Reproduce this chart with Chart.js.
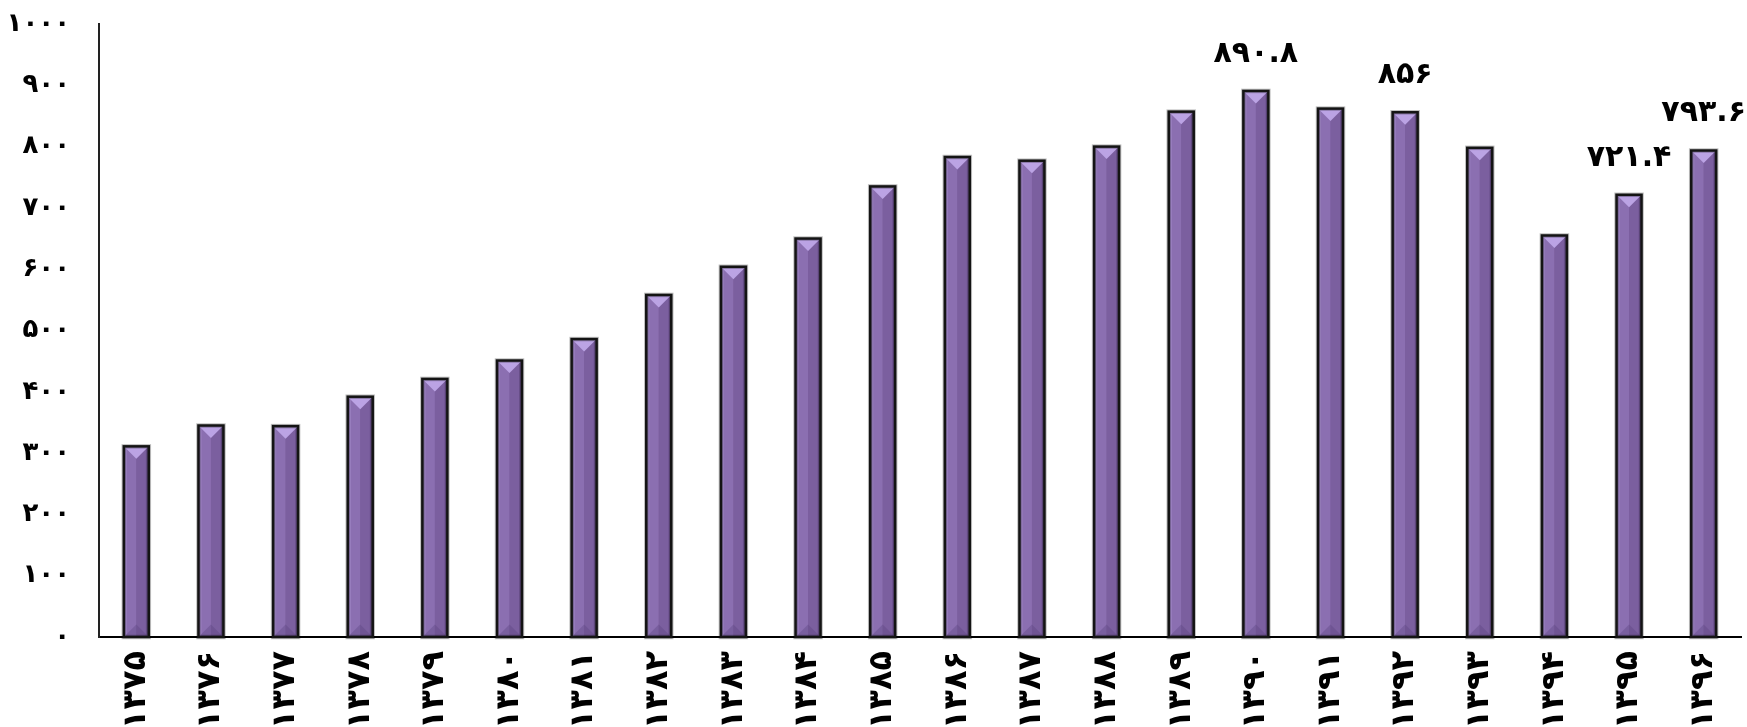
<!DOCTYPE html>
<html>
<head>
<meta charset="utf-8">
<script src="https://cdn.jsdelivr.net/npm/chart.js@4"></script>
<style>
  html, body { margin: 0; padding: 0; background: #fff; }
  #wrap { width: 1747px; height: 727px; position: relative; }
</style>
</head>
<body>
<div id="wrap"><canvas id="chartCanvas"></canvas></div>
<script>
// years (Persian calendar) and values
const years = ['۱۳۷۵', '۱۳۷۶', '۱۳۷۷', '۱۳۷۸', '۱۳۷۹', '۱۳۸۰', '۱۳۸۱', '۱۳۸۲', '۱۳۸۳', '۱۳۸۴', '۱۳۸۵',
  '۱۳۸۶', '۱۳۸۷', '۱۳۸۸', '۱۳۸۹', '۱۳۹۰', '۱۳۹۱', '۱۳۹۲', '۱۳۹۳', '۱۳۹۴', '۱۳۹۵', '۱۳۹۶'];
const values = [311, 345, 344, 392, 421, 451, 486, 558, 604, 650, 735,
  783, 777, 800, 857, 890.8, 862, 856, 798, 655, 721.4, 793.6];
// only these bars carry a value label
const labelledYears = ['۱۳۹۰', '۱۳۹۲', '۱۳۹۵', '۱۳۹۶'];
const yTicks = [0, 100, 200, 300, 400, 500, 600, 700, 800, 900, 1000];

const faFont = "'DejaVu Sans', sans-serif";
const toFa = n => String(n).replace(/\d/g, d => '۰۱۲۳۴۵۶۷۸۹'[d]);

// excel-like bevelled bar look, drawn on top of each bar element
const bevelBars = {
  id: 'bevelBars',
  afterDatasetsDraw(chart) {
    const c = chart.ctx;
    const meta = chart.getDatasetMeta(0);
    c.save();
    meta.data.forEach((bar, i) => {
      const { x, y, base, width } = bar.getProps(['x', 'y', 'base', 'width'], true);
      const l = x - width / 2, r = x + width / 2;
      const h = base - y;
      const tri = Math.min(width / 2, h / 2);

      c.fillStyle = '#8b6fb1';
      c.fillRect(l, y, x - l, h);
      c.fillStyle = '#7b5f9f';
      c.fillRect(x, y, r - x, h);
      c.fillStyle = '#9c83c2';
      c.fillRect(l, y, 3, h);
      c.fillStyle = '#6e5491';
      c.fillRect(r - 3, y, 3, h);

      // top facet
      c.fillStyle = '#bba3e4';
      c.beginPath();
      c.moveTo(l, y);
      c.lineTo(r, y);
      c.lineTo(x, y + tri);
      c.closePath();
      c.fill();

      // bottom facet, faint
      c.fillStyle = 'rgba(90,65,125,0.35)';
      c.beginPath();
      c.moveTo(l, base);
      c.lineTo(r, base);
      c.lineTo(x, base - tri);
      c.closePath();
      c.fill();

      // shadow + outline
      c.strokeStyle = 'rgba(0,0,0,0.25)';
      c.lineWidth = 4.5;
      c.strokeRect(l, y, width, h);
      c.strokeStyle = '#141414';
      c.lineWidth = 2.5;
      c.strokeRect(l, y, width, h);

      if (labelledYears.includes(years[i])) {
        c.fillStyle = '#000';
        c.font = 'bold 30px ' + faFont;
        c.textAlign = 'center';
        c.textBaseline = 'middle';
        c.fillText(toFa(values[i]), x, y - 37);
      }
    });
    c.restore();
  }
};

const ctx = document.getElementById('chartCanvas').getContext('2d');
new Chart(ctx, {
  type: 'bar',
  data: {
    labels: years,
    datasets: [{
      data: values,
      backgroundColor: '#8064a2',
      borderWidth: 0,
      barPercentage: 0.335,
      categoryPercentage: 1
    }]
  },
  options: {
    responsive: true,
    maintainAspectRatio: false,
    animation: false,
    layout: { padding: { top: 24, right: 6, left: 0, bottom: 0 } },
    plugins: {
      legend: { display: false },
      tooltip: { enabled: false }
    },
    scales: {
      x: {
        grid: { display: false, drawTicks: false },
        border: { display: true, color: '#000', width: 2 },
        afterFit: s => {
          s.height = 90;
          s.paddingLeft = 0;
          s.paddingRight = 0;
        },
        ticks: {
          autoSkip: false,
          minRotation: 90,
          maxRotation: 90,
          padding: 14,
          color: '#000',
          font: { family: faFont, size: 32, weight: 'bold' }
        }
      },
      y: {
        min: 0,
        max: 1000,
        grid: { display: false, drawTicks: false },
        border: { display: true, color: '#222', width: 2 },
        afterFit: s => {
          s.width = 99;
          s.paddingTop = 0;
          s.paddingBottom = 0;
        },
        afterBuildTicks: s => { s.ticks = yTicks.map(v => ({ value: v })); },
        ticks: {
          padding: 29,
          color: '#000',
          font: { family: faFont, size: 26, weight: 'bold' },
          callback: v => toFa(v)
        }
      }
    }
  },
  plugins: [bevelBars]
});
</script>
</body>
</html>
